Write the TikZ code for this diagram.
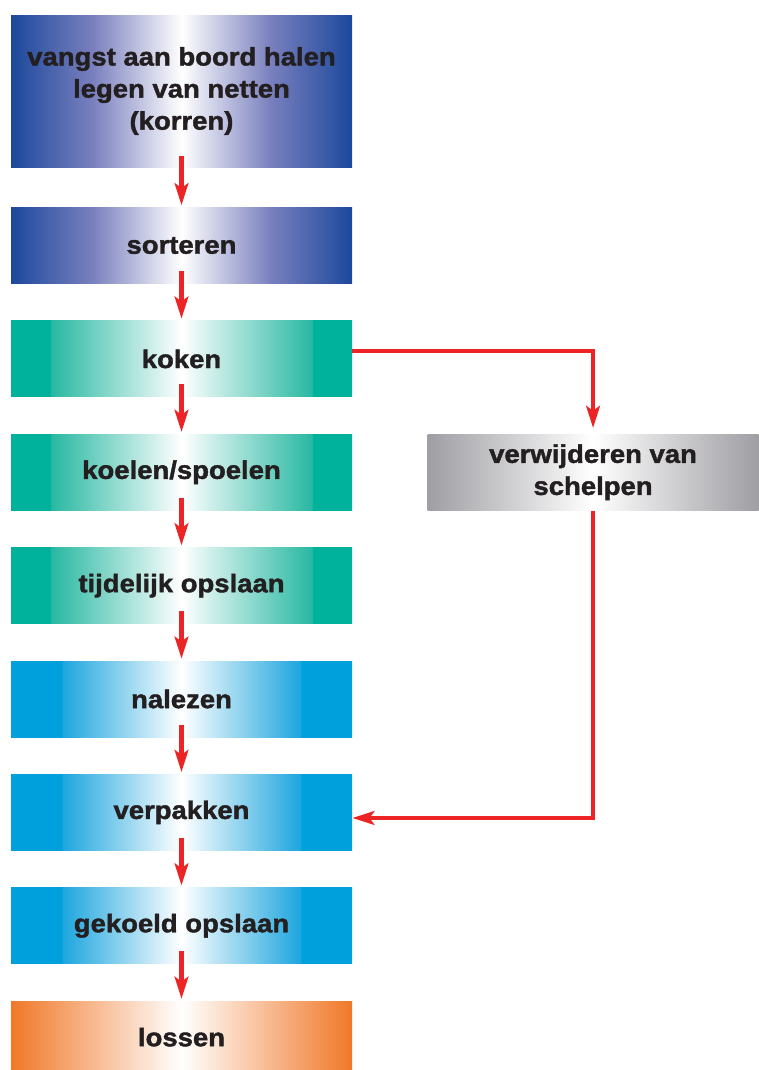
\documentclass[tikz,border=0pt]{standalone}
\usepackage{fontspec}
\setmainfont{Liberation Sans}[FakeStretch=1.08, BoldFeatures={FakeBold=1.6}]
\usepackage{tikz}
\usetikzlibrary{arrows.meta,positioning}
\usepackage{xcolor}
\definecolor{navyblue}{RGB}{28,72,156}
\definecolor{lavender}{RGB}{122,128,190}
\definecolor{seateal}{RGB}{0,178,155}
\definecolor{lightteal}{RGB}{40,184,162}
\definecolor{skyblue}{RGB}{0,160,220}
\definecolor{lightsky}{RGB}{30,166,222}
\definecolor{shellgray}{RGB}{158,158,163}
\definecolor{peelorange}{RGB}{240,120,40}
\definecolor{arrowred}{RGB}{236,36,38}
\definecolor{textdark}{RGB}{35,31,32}

\pgfdeclarehorizontalshading{navyshade}{100bp}{color(0bp)=(navyblue); color(25bp)=(navyblue); color(37bp)=(lavender); color(50bp)=(white); color(63bp)=(lavender); color(75bp)=(navyblue); color(100bp)=(navyblue)}
\pgfdeclarehorizontalshading{tealshade}{100bp}{color(0bp)=(seateal); color(30.7bp)=(seateal); color(30.9bp)=(lightteal); color(50bp)=(white); color(69.1bp)=(lightteal); color(69.3bp)=(seateal); color(100bp)=(seateal)}
\pgfdeclarehorizontalshading{skyshade}{100bp}{color(0bp)=(skyblue); color(32.4bp)=(skyblue); color(32.6bp)=(lightsky); color(50bp)=(white); color(67.4bp)=(lightsky); color(67.6bp)=(skyblue); color(100bp)=(skyblue)}
\pgfdeclarehorizontalshading{grayshade}{100bp}{color(0bp)=(shellgray); color(25bp)=(shellgray); color(50bp)=(white); color(75bp)=(shellgray); color(100bp)=(shellgray)}
\pgfdeclarehorizontalshading{orangeshade}{100bp}{color(0bp)=(peelorange); color(25bp)=(peelorange); color(50bp)=(white); color(75bp)=(peelorange); color(100bp)=(peelorange)}

\begin{document}
\begin{tikzpicture}[
    stepbox/.style={rectangle, shade, text=textdark, align=center, inner sep=0pt, minimum width=8.525cm, minimum height=1.9cm, font=\fontsize{18.1pt}{22.8pt}\selectfont\bfseries},
    navybox/.style={stepbox, shading=navyshade},
    tealbox/.style={stepbox, shading=tealshade},
    skybox/.style={stepbox, shading=skyshade},
    arrow/.style={-{Stealth[length=0.55cm, width=0.34cm, inset=0.12cm]}, line width=0.11cm, draw=arrowred}
]
\useasboundingbox (0,0) rectangle (18.95,-26.75);

% Catch
\node[navybox, minimum height=3.8cm] (vangst) at (4.5375,-2.275) {vangst aan boord halen\\legen van netten\\(korren)};
\node[navybox, below=1.0cm of vangst] (sorteren) {sorteren};

% Cooking line
\node[tealbox, below=0.92cm of sorteren] (koken) {koken};
\node[tealbox, below=0.92cm of koken] (koelen) {koelen/spoelen};
\node[tealbox, below=0.92cm of koelen] (opslaan) {tijdelijk opslaan};

% Side branch
\node[stepbox, shading=grayshade, minimum width=8.275cm, right=1.875cm of koelen] (schelpen) {verwijderen van\\schelpen};

% Packing line
\node[skybox, below=0.92cm of opslaan] (nalezen) {nalezen};
\node[skybox, below=0.92cm of nalezen] (verpakken) {verpakken};
\node[skybox, below=0.92cm of verpakken] (gekoeld) {gekoeld opslaan};

% Unloading
\node[stepbox, shading=orangeshade, minimum height=1.8cm, below=0.92cm of gekoeld] (lossen) {lossen};

% Connectors
\draw[arrow] ([yshift=0.28cm]vangst.south) -- ([yshift=0.05cm]sorteren.north);
\draw[arrow] ([yshift=0.32cm]sorteren.south) -- ([yshift=0.05cm]koken.north);
\draw[arrow] ([yshift=0.32cm]koken.south) -- ([yshift=0.05cm]koelen.north);
\draw[arrow] ([yshift=0.32cm]koelen.south) -- ([yshift=0.05cm]opslaan.north);
\draw[arrow] ([yshift=0.32cm]opslaan.south) -- ([yshift=0.05cm]nalezen.north);
\draw[arrow] ([yshift=0.32cm]nalezen.south) -- ([yshift=0.05cm]verpakken.north);
\draw[arrow] ([yshift=0.32cm]verpakken.south) -- ([yshift=0.05cm]gekoeld.north);
\draw[arrow] ([yshift=0.32cm]gekoeld.south) -- ([yshift=0.05cm]lossen.north);
\draw[arrow] ([yshift=0.2cm]koken.east) -| ([yshift=0.15cm]schelpen.north);
\draw[arrow] (schelpen.south) |- ([yshift=-0.14cm]verpakken.east);

\end{tikzpicture}
\end{document}
